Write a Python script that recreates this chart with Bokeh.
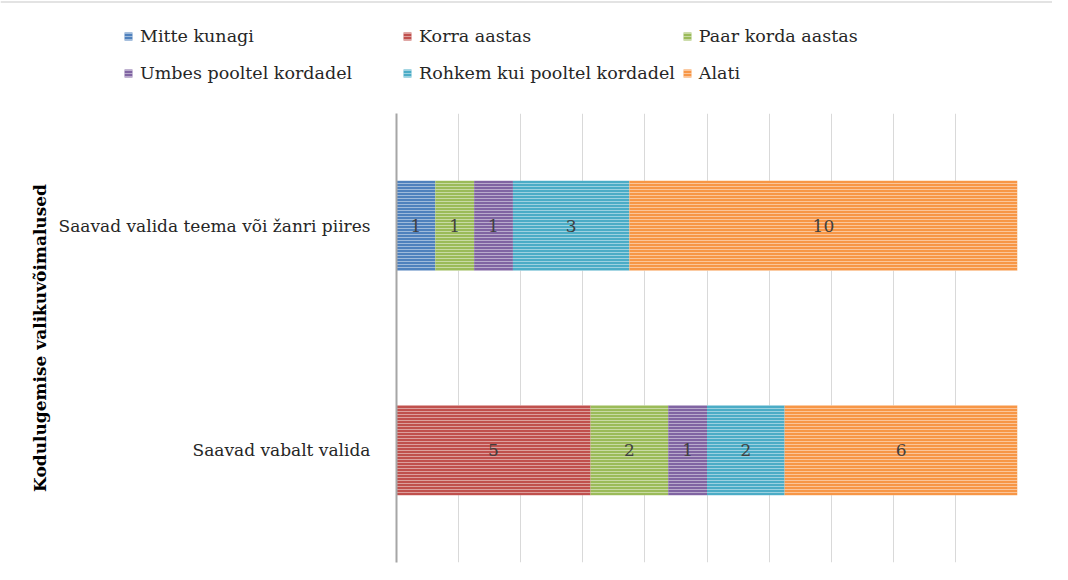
from bokeh.plotting import figure
from bokeh.layouts import column, row
from bokeh.models import Legend, LegendItem, ColumnDataSource, FactorRange, FixedTicker, Span
from bokeh.core.properties import value
from bokeh.embed import file_html
from bokeh.resources import INLINE

categories = ["Saavad vabalt valida", "Saavad valida teema või žanri piires"]
series = ["Mitte kunagi", "Korra aastas", "Paar korda aastas",
          "Umbes pooltel kordadel", "Rohkem kui pooltel kordadel", "Alati"]
mitte_kunagi = [0, 1]
korra_aastas = [5, 0]
paar_korda = [2, 1]
umbes_pooltel = [1, 1]
rohkem_pooltel = [2, 3]
alati = [6, 10]
colors = ["#4F81BD", "#C0504D", "#9BBB59", "#8064A2", "#4BACC6", "#F79646"]

values = [mitte_kunagi, korra_aastas, paar_korda, umbes_pooltel, rohkem_pooltel, alati]
totals = [sum(v[i] for v in values) for i in range(len(categories))]

SERIF = "DejaVu Serif"
HATCH = dict(hatch_pattern="horizontal_line", hatch_color="white", hatch_alpha=0.45,
             hatch_scale=3, hatch_weight=1)

p = figure(width=1052, height=464, output_backend="svg", toolbar_location=None,
           y_range=FactorRange(*categories), x_range=(0, 100),
           min_border_left=396, min_border_right=35, min_border_top=13, min_border_bottom=2)
p.outline_line_color = None
p.background_fill_color = "white"

lx, ly, lt = [], [], []
for ci in range(len(categories)):
    left = 0.0
    for si, v in enumerate(values):
        val = v[ci]
        pct = val / totals[ci] * 100
        if val > 0:
            lx.append(left + pct / 2)
            ly.append(categories[ci])
            lt.append(str(val))
        left += pct

lefts = [0.0] * len(categories)
for si, (name, v, c) in enumerate(zip(series, values, colors)):
    pcts = [v[i] / totals[i] * 100 for i in range(len(categories))]
    rights = [lefts[i] + pcts[i] for i in range(len(categories))]
    src = ColumnDataSource(dict(y=categories, left=lefts[:], right=rights))
    p.hbar(y="y", left="left", right="right", height=0.4, source=src,
           fill_color=c, line_color=None, **HATCH)
    lefts = rights

p.text(x=lx, y=ly, text=lt, text_align="center", text_baseline="middle",
       text_font=value(SERIF), text_font_size="17px", text_color="#404040")

p.xaxis.visible = False
p.xgrid.ticker = FixedTicker(ticks=list(range(0, 101, 10)))
p.xgrid.grid_line_color = "#d9d9d9"
p.ygrid.grid_line_color = None

p.yaxis.axis_line_color = "#a6a6a6"
p.yaxis.axis_line_width = 2
p.yaxis.major_tick_line_color = None
p.yaxis.minor_tick_line_color = None
p.yaxis.major_label_text_font = SERIF
p.yaxis.major_label_text_font_size = "17px"
p.yaxis.major_label_text_color = "#262626"
p.yaxis.major_label_standoff = 20
p.yaxis.axis_label = "Kodulugemise valikuvõimalused"
p.yaxis.axis_label_text_font = SERIF
p.yaxis.axis_label_text_font_style = "bold"
p.yaxis.axis_label_text_font_size = "17px"
p.yaxis.axis_label_text_color = "black"
p.yaxis.axis_label_standoff = 6

# legend figure
lg = figure(width=1052, height=100, output_backend="svg", toolbar_location=None,
            x_range=(0, 1), y_range=(0, 1), min_border=0)
lg.outline_line_color = None
lg.axis.visible = False
lg.grid.visible = False
lg.add_layout(Span(location=0.985, dimension="width", line_color="#e3e3e3", line_width=2))
lrs = []
for name, c in zip(series, colors):
    r = lg.hbar(y=[0.5], left=[0], right=[0], height=0.1, fill_color=c, line_color=None, **HATCH)
    lrs.append(r)
items = [LegendItem(label=n, renderers=[r]) for n, r in zip(series, lrs)]
legend = Legend(items=items, orientation="horizontal", ncols=3,
                location=(123, 12), padding=0, spacing=7, margin=0,
                glyph_width=10, glyph_height=10, label_standoff=7,
                label_height=30, label_width=255,
                label_text_font=SERIF, label_text_font_size="17.5px",
                label_text_color="#262626", border_line_color=None,
                background_fill_alpha=0)
lg.add_layout(legend, "center")

layout = column(row(lg), p, spacing=0)
open("out.html", "w").write(file_html(layout, INLINE))
